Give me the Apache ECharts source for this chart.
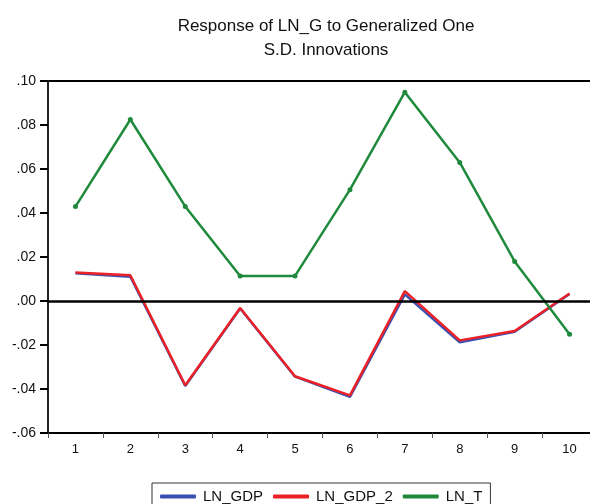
<!DOCTYPE html>
<html>
<head>
<meta charset="utf-8">
<style>
  html, body { margin: 0; padding: 0; background: #ffffff; }
  #chart { width: 590px; height: 504px; }
</style>
<script src="https://cdn.jsdelivr.net/npm/echarts@6/dist/echarts.min.js"></script>
</head>
<body>
<div id="chart"></div>
<script>
// Impulse-response periods
const periods = ['1', '2', '3', '4', '5', '6', '7', '8', '9', '10'];

// Responses of LN_G to each shock
const lnGdp  = [0.0126, 0.0110, -0.0386, -0.0034, -0.0344, -0.0436, 0.0030, -0.0188, -0.0140, 0.0032];
const lnGdp2 = [0.0129, 0.0117, -0.0383, -0.0032, -0.0342, -0.0429, 0.0045, -0.0179, -0.0136, 0.0034];
const lnT    = [0.0429, 0.0825, 0.0430, 0.0114, 0.0114, 0.0506, 0.0949, 0.0630, 0.0180, -0.0151];

// Value-axis tick labels, from -.06 up to .10
const yTickValues = [-0.06, -0.04, -0.02, 0.00, 0.02, 0.04, 0.06, 0.08, 0.10];
const yTickLabels = ['-.06', '-.04', '-.02', '.00', '.02', '.04', '.06', '.08', '.10'];

const FONT = 'Liberation Sans, Arial, Helvetica, sans-serif';

function yLabel(v) {
  for (let i = 0; i < yTickValues.length; i++) {
    if (Math.abs(yTickValues[i] - v) < 1e-9) return yTickLabels[i];
  }
  return '';
}

const chart = echarts.init(document.getElementById('chart'), null, { renderer: 'canvas' });

chart.setOption({
  animation: false,
  backgroundColor: '#ffffff',
  title: {
    text: 'Response of LN_G to Generalized One\nS.D. Innovations',
    left: 321,
    top: 9,
    textAlign: 'center',
    textStyle: {
      fontFamily: FONT,
      fontSize: 17,
      fontWeight: 'normal',
      color: '#111111',
      lineHeight: 24
    }
  },
  legend: {
    left: 152,
    top: 483,
    padding: [6, 8, 8, 8],
    itemWidth: 36,
    itemHeight: 4,
    itemGap: 10,
    icon: 'roundRect',
    borderColor: '#333333',
    borderWidth: 1,
    textStyle: { fontFamily: FONT, fontSize: 15, color: '#111111', padding: [0, 0, 0, 2] },
    data: ['LN_GDP', 'LN_GDP_2', 'LN_T']
  },
  grid: {
    left: 48,
    top: 81,
    width: 549,
    height: 352,
    outerBoundsMode: 'none',
    containLabel: false,
    show: true,
    borderColor: '#000000',
    borderWidth: 2,
    backgroundColor: 'transparent'
  },
  xAxis: {
    type: 'category',
    data: periods,
    boundaryGap: true,
    axisLine: { onZero: false, lineStyle: { color: '#000000', width: 2 } },
    axisTick: { show: true, inside: false, length: 5, alignWithLabel: false, lineStyle: { color: '#555555', width: 1 } },
    axisLabel: { fontFamily: FONT, fontSize: 13, color: '#111111', margin: 10 },
    splitLine: { show: false }
  },
  yAxis: {
    type: 'value',
    min: -0.06,
    max: 0.10,
    interval: 0.02,
    axisLine: { show: true, onZero: false, lineStyle: { color: '#222222', width: 2 } },
    axisTick: { show: true, inside: false, length: 8, lineStyle: { color: '#000000', width: 2 } },
    axisLabel: { fontFamily: FONT, fontSize: 14, color: '#111111', margin: 12, formatter: yLabel },
    splitLine: { show: false }
  },
  series: [
    {
      name: 'LN_GDP',
      type: 'line',
      data: lnGdp,
      z: 2,
      showSymbol: false,
      symbol: 'none',
      lineStyle: { color: '#3a4fb0', width: 2.5 },
      itemStyle: { color: '#3a4fb0' },
      markLine: {
        silent: true,
        symbol: 'none',
        label: { show: false },
        lineStyle: { color: '#000000', width: 2.5, type: 'solid' },
        data: [{ yAxis: 0 }]
      }
    },
    {
      name: 'LN_GDP_2',
      type: 'line',
      data: lnGdp2,
      z: 3,
      showSymbol: false,
      symbol: 'none',
      lineStyle: { color: '#ec2127', width: 2.5 },
      itemStyle: { color: '#ec2127' }
    },
    {
      name: 'LN_T',
      type: 'line',
      data: lnT,
      z: 4,
      symbol: 'circle',
      symbolSize: 5,
      lineStyle: { color: '#1f8a3c', width: 2.5 },
      itemStyle: { color: '#1f8a3c' }
    }
  ]
});
</script>
</body>
</html>
